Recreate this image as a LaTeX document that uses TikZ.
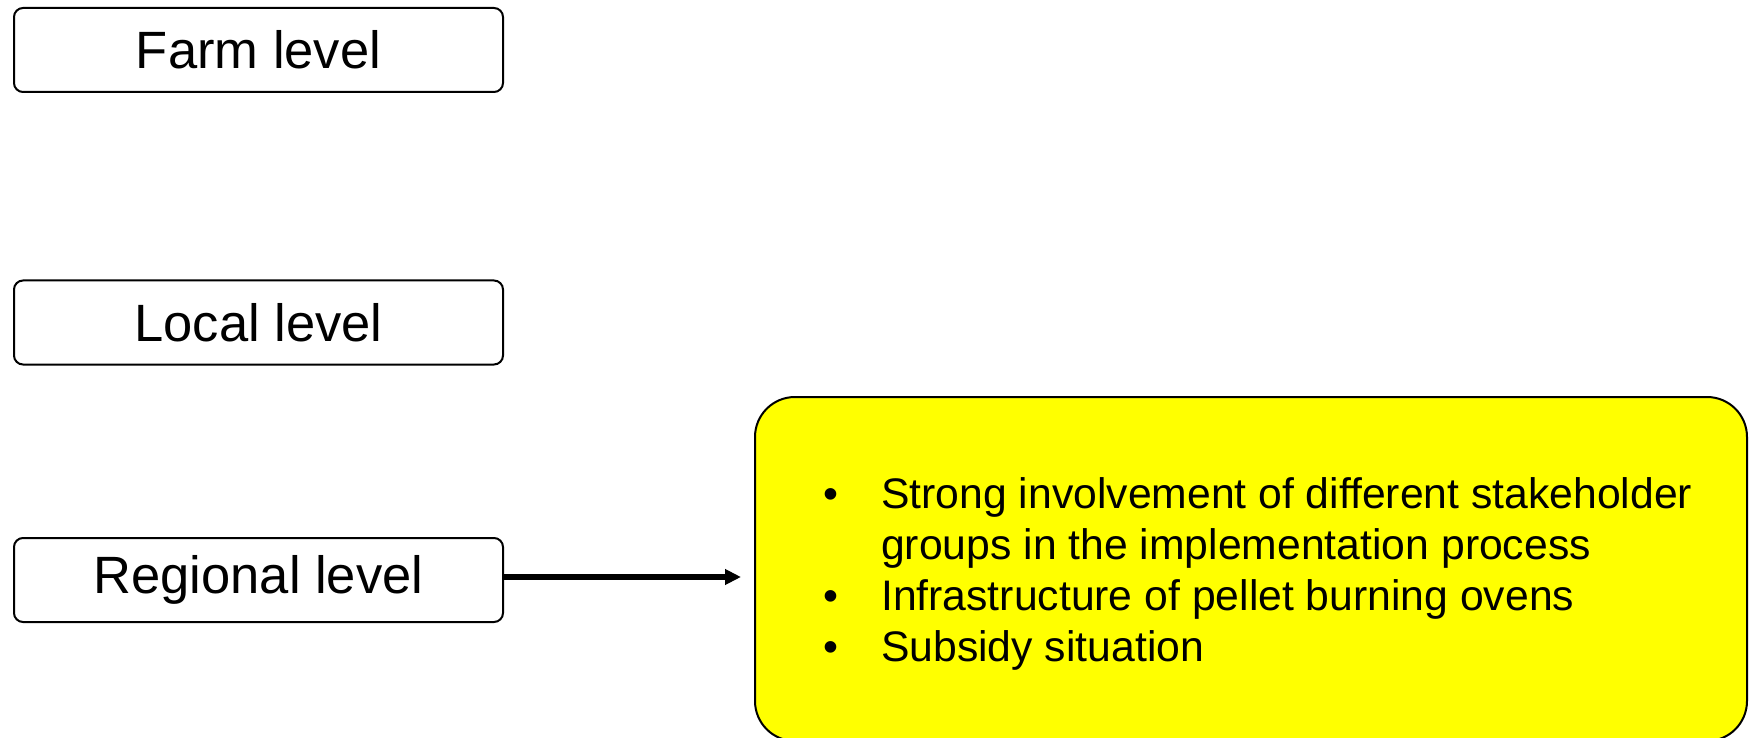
\documentclass[tikz,border=0pt]{standalone}
\usepackage{fontspec}
\setmainfont{Liberation Sans}
\usetikzlibrary{arrows.meta}
\definecolor{notefill}{RGB}{255,255,0}
\begin{document}
\begin{tikzpicture}[x=1pt,y=-1pt,
  levelbox/.style={draw=black, line width=2pt, rounded corners=9pt,
    minimum width=489pt, minimum height=84pt, inner sep=0pt,
    font=\fontsize{52.5}{63}\selectfont},
  notebox/.style={draw=black, line width=2pt, fill=notefill, rounded corners=40pt,
    minimum width=992pt, minimum height=344pt, inner sep=0pt},
  link/.style={line width=5.5pt, -{Triangle[length=16pt,width=15pt]}}]
  \useasboundingbox (0,0) rectangle (1749,738);

  % the three levels
  \node[levelbox] (farm) at (258.5,50) {Farm level};
  \node[levelbox] (local) at (258.5,322.5) {Local level};
  \node[levelbox] (regional) at (258.5,580) {Regional level};

  % factors at the regional level
  \node[notebox] (notes) at (1251,569) {};
  \node[anchor=base west, inner sep=0pt, font=\fontsize{42.7}{51.3}\selectfont] (items) at (823,508)
    {\begin{tabular}[t]{@{}p{58pt}@{}l@{}}
      \textbullet & Strong involvement of different stakeholder\\
                  & groups in the implementation process\\
      \textbullet & Infrastructure of pellet burning ovens\\
      \textbullet & Subsidy situation
    \end{tabular}};

  % connector
  \coordinate (start) at ([yshift=3pt]regional.east);
  \draw[link, shorten >=13pt] (start) -- (start -| notes.west);
\end{tikzpicture}
\end{document}
